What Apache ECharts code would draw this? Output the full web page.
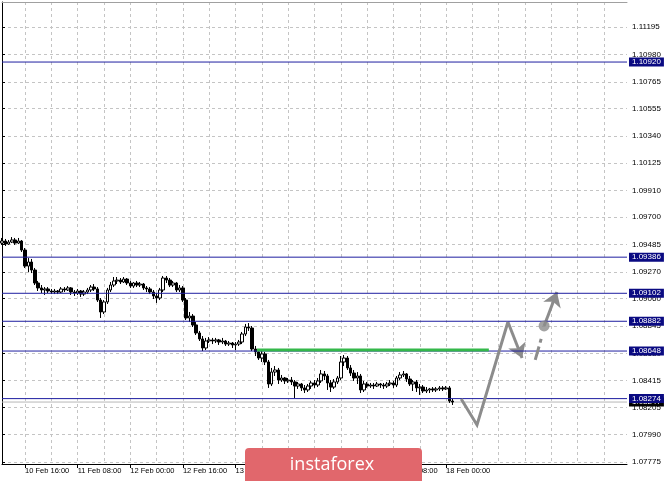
<!DOCTYPE html>
<html><head><meta charset="utf-8">
<script src="https://cdn.jsdelivr.net/npm/echarts@6/dist/echarts.min.js"></script>
<style>html,body{margin:0;padding:0;background:#fff}#c{width:665px;height:481px}</style>
</head><body><div id="c"></div>
<script>
// ---- data (EURUSD H1) ----
const opens = [1.09497,1.09513,1.09489,1.09505,1.09521,1.09497,1.09513,1.09442,1.09316,1.09348,
 1.09285,1.09183,1.09144,1.09128,1.09136,1.09120,1.09112,1.09120,1.09112,1.09136,
 1.09128,1.09144,1.09112,1.09104,1.09120,1.09096,1.09112,1.09128,1.09151,1.09136,
 1.09049,1.08955,1.09034,1.09128,1.09167,1.09199,1.09206,1.09191,1.09214,1.09183,
 1.09159,1.09183,1.09167,1.09175,1.09144,1.09136,1.09112,1.09081,1.09065,1.09128,
 1.09222,1.09206,1.09167,1.09183,1.09128,1.09144,1.09049,1.08908,1.08923,1.08853,
 1.08790,1.08743,1.08672,1.08727,1.08735,1.08727,1.08735,1.08719,1.08727,1.08703,
 1.08711,1.08696,1.08703,1.08719,1.08782,1.08837,1.08829,1.08664,1.08641,1.08593,
 1.08625,1.08562,1.08389,1.08483,1.08499,1.08420,1.08436,1.08413,1.08420,1.08405,
 1.08373,1.08389,1.08358,1.08342,1.08373,1.08397,1.08381,1.08413,1.08468,1.08452,
 1.08397,1.08365,1.08405,1.08436,1.08562,1.08593,1.08515,1.08475,1.08436,1.08452,
 1.08342,1.08389,1.08373,1.08381,1.08373,1.08389,1.08381,1.08373,1.08389,1.08397,
 1.08381,1.08436,1.08460,1.08468,1.08428,1.08389,1.08405,1.08358,1.08365,1.08334,
 1.08342,1.08350,1.08342,1.08350,1.08358,1.08350,1.08358,1.08255];
const closes = [1.09513,1.09489,1.09505,1.09521,1.09497,1.09513,1.09442,1.09316,1.09348,1.09285,
 1.09183,1.09144,1.09128,1.09136,1.09120,1.09112,1.09120,1.09112,1.09136,1.09128,
 1.09144,1.09112,1.09104,1.09120,1.09096,1.09112,1.09128,1.09151,1.09136,1.09049,
 1.08955,1.09034,1.09128,1.09167,1.09199,1.09206,1.09191,1.09214,1.09183,1.09159,
 1.09183,1.09167,1.09175,1.09144,1.09136,1.09112,1.09081,1.09065,1.09128,1.09222,
 1.09206,1.09167,1.09183,1.09128,1.09144,1.09049,1.08908,1.08923,1.08853,1.08790,
 1.08743,1.08672,1.08727,1.08735,1.08727,1.08735,1.08719,1.08727,1.08703,1.08711,
 1.08696,1.08703,1.08719,1.08782,1.08837,1.08829,1.08664,1.08641,1.08593,1.08625,
 1.08562,1.08389,1.08483,1.08499,1.08420,1.08436,1.08413,1.08420,1.08405,1.08373,
 1.08389,1.08358,1.08342,1.08373,1.08397,1.08381,1.08413,1.08468,1.08452,1.08397,
 1.08365,1.08405,1.08436,1.08562,1.08593,1.08515,1.08475,1.08436,1.08452,1.08342,
 1.08389,1.08373,1.08381,1.08373,1.08389,1.08381,1.08373,1.08389,1.08397,1.08381,
 1.08436,1.08460,1.08468,1.08428,1.08389,1.08405,1.08358,1.08365,1.08334,1.08342,
 1.08350,1.08342,1.08350,1.08358,1.08350,1.08358,1.08255,1.08247];
const highs = [1.09537,1.09529,1.09521,1.09544,1.09537,1.09537,1.09521,1.09458,1.09379,1.09372,
 1.09301,1.09199,1.09167,1.09151,1.09151,1.09136,1.09136,1.09128,1.09151,1.09151,
 1.09159,1.09151,1.09128,1.09136,1.09128,1.09128,1.09144,1.09167,1.09175,1.09151,
 1.09065,1.09049,1.09144,1.09191,1.09230,1.09230,1.09222,1.09230,1.09222,1.09199,
 1.09191,1.09199,1.09191,1.09183,1.09159,1.09151,1.09128,1.09104,1.09144,1.09238,
 1.09238,1.09222,1.09199,1.09191,1.09167,1.09159,1.09065,1.08955,1.08939,1.08876,
 1.08806,1.08766,1.08751,1.08758,1.08751,1.08751,1.08743,1.08751,1.08735,1.08727,
 1.08719,1.08719,1.08735,1.08798,1.08861,1.08868,1.08845,1.08688,1.08664,1.08656,
 1.08641,1.08578,1.08515,1.08530,1.08515,1.08460,1.08444,1.08436,1.08444,1.08420,
 1.08405,1.08397,1.08381,1.08389,1.08413,1.08420,1.08436,1.08499,1.08491,1.08468,
 1.08420,1.08428,1.08452,1.08609,1.08617,1.08609,1.08538,1.08499,1.08483,1.08468,
 1.08413,1.08405,1.08397,1.08397,1.08405,1.08397,1.08397,1.08405,1.08420,1.08413,
 1.08452,1.08483,1.08491,1.08475,1.08452,1.08420,1.08420,1.08389,1.08381,1.08365,
 1.08358,1.08365,1.08365,1.08373,1.08373,1.08373,1.08373,1.08271];
const lows = [1.09482,1.09474,1.09482,1.09497,1.09482,1.09489,1.09427,1.09301,1.09269,1.09261,
 1.09167,1.09120,1.09104,1.09089,1.09104,1.09096,1.09096,1.09096,1.09104,1.09112,
 1.09120,1.09089,1.09081,1.09089,1.09073,1.09081,1.09096,1.09112,1.09120,1.09034,
 1.08908,1.08939,1.09018,1.09112,1.09151,1.09175,1.09175,1.09183,1.09167,1.09144,
 1.09144,1.09151,1.09151,1.09128,1.09112,1.09096,1.09057,1.09026,1.09049,1.09112,
 1.09183,1.09151,1.09151,1.09112,1.09112,1.09034,1.08892,1.08876,1.08837,1.08774,
 1.08727,1.08648,1.08656,1.08711,1.08703,1.08711,1.08696,1.08703,1.08688,1.08688,
 1.08672,1.08656,1.08688,1.08703,1.08766,1.08806,1.08648,1.08609,1.08578,1.08562,
 1.08538,1.08358,1.08373,1.08452,1.08389,1.08405,1.08389,1.08397,1.08381,1.08279,
 1.08350,1.08334,1.08318,1.08326,1.08350,1.08358,1.08365,1.08397,1.08420,1.08342,
 1.08326,1.08350,1.08389,1.08420,1.08530,1.08499,1.08452,1.08413,1.08389,1.08318,
 1.08326,1.08358,1.08358,1.08350,1.08365,1.08358,1.08350,1.08358,1.08373,1.08358,
 1.08365,1.08420,1.08444,1.08405,1.08373,1.08334,1.08326,1.08303,1.08318,1.08318,
 1.08318,1.08326,1.08326,1.08334,1.08334,1.08342,1.08240,1.08224];

const levels = [1.10920, 1.09386, 1.09102, 1.08882, 1.08648, 1.08274];
const bidPrice = 1.08247;
const yTicks = [1.07775,1.07990,1.08205,1.08415,1.08630,1.08845,1.09060,1.09270,1.09485,
  1.09700,1.09910,1.10125,1.10340,1.10555,1.10765,1.10980,1.11195];
const xTickLabels = ['10 Feb 16:00','11 Feb 08:00','12 Feb 00:00','12 Feb 16:00','13 Feb 08:00',
  '14 Feb 00:00','14 Feb 16:00','17 Feb 08:00','18 Feb 00:00'];
const xGridHours = ['00','08','16'];

// hand-drawn forecast (bar index, price)
const greenX = [77.5, 148];
const greenY = [1.08656, 1.08656];
const zigX = [139.6, 144.4, 153.8];
const zigY = [1.08271, 1.08067, 1.08876];
const arrowDown = [[153.8, 1.08876], [158.1, 1.08593]];
const dashX = [162.1, 163.9];
const dashY = [1.08578, 1.08743];
const dot = [164.8, 1.08845];
const arrowUp = [[164.8, 1.08845], [168.7, 1.09112]];

// ---- categories: hourly bars, weekend skipped ----
const NBARS = 191;
const cats = [];
let d = 10, h = 9;
for (let k = 0; k < NBARS; k++) {
  cats.push(d + ' Feb ' + String(h).padStart(2, '0') + ':00');
  h++; if (h === 24) { h = 0; d++; if (d === 15) d = 17; }
}
const labelIdx = xTickLabels.map(l => cats.indexOf(l));
const gridIdx = [];
cats.forEach((c, i) => { if (xGridHours.includes(c.slice(-5, -3))) gridIdx.push(i); });
const candles = opens.map((o, i) => [o, closes[i], lows[i], highs[i]]);

const FONT = 'Liberation Sans';
const GRID = {color: '#c4c4c4', type: [3, 3], width: 1};
const BLUE = '#1e1ea0';

function levelSeries(v, lineColor, boxColor, z) {
  return {
    type: 'line', xAxisIndex: 1, z: z, silent: true, symbol: 'none',
    data: [[0, v], [NBARS - 1, v]],
    lineStyle: {color: lineColor, width: 1},
    endLabel: {show: true, distance: 2, formatter: () => v.toFixed(5),
      backgroundColor: boxColor, color: '#fff', fontSize: 8, fontFamily: FONT, padding: [1, 3, 0, 3]}
  };
}

const chart = echarts.init(document.getElementById('c'), null, {renderer: 'canvas'});
chart.setOption({
  animation: false,
  backgroundColor: '#fff',
  grid: {left: 2, right: 38, top: 2, bottom: 17},
  xAxis: [{
    type: 'category', data: cats, boundaryGap: false, position: 'bottom',
    axisLine: {lineStyle: {color: '#000', width: 1}},
    axisTick: {show: false}, axisLabel: {show: false}, splitLine: {show: false}
  }, {
    type: 'value', min: 0, max: NBARS - 1, position: 'bottom',
    axisLine: {show: false},
    axisTick: {show: true, customValues: labelIdx, length: 4, lineStyle: {color: '#000'}},
    axisLabel: {customValues: labelIdx, formatter: v => cats[Math.round(v)], align: 'left', margin: 3,
      fontSize: 7.5, fontFamily: FONT, color: '#000'},
    splitLine: {show: false}
  }, {
    type: 'value', min: 0, max: NBARS - 1, position: 'top',
    axisLine: {show: true, lineStyle: {color: '#a0a0a0'}},
    axisTick: {show: false, customValues: gridIdx}, axisLabel: {show: false},
    splitLine: {show: true, lineStyle: GRID}
  }],
  yAxis: {
    type: 'value', position: 'right', min: 1.07760, max: 1.11392,
    axisLine: {show: true, lineStyle: {color: '#000'}},
    axisTick: {show: true, customValues: yTicks, length: 3, lineStyle: {color: '#000'}},
    axisLabel: {customValues: yTicks, formatter: v => v.toFixed(5), margin: 5,
      fontSize: 8, fontFamily: FONT, color: '#000'},
    splitLine: {show: true, lineStyle: GRID}
  },
  series: [
    levelSeries(bidPrice, '#b8b8b8', '#000', 3),
    {
      type: 'candlestick', data: candles, barWidth: 3, z: 4,
      itemStyle: {color: '#fff', color0: '#000', borderColor: '#000', borderColor0: '#000', borderWidth: 1}
    },
    ...levels.map(v => levelSeries(v, BLUE, '#0a0a82', 5)),
    {
      type: 'line', xAxisIndex: 1, z: 6, silent: true, symbol: 'none',
      data: greenX.map((x, i) => [x, greenY[i]]),
      lineStyle: {color: '#34b84a', width: 3}
    },
    {
      type: 'line', xAxisIndex: 1, z: 7, silent: true, symbol: 'none',
      data: zigX.map((x, i) => [x, zigY[i]]),
      lineStyle: {color: '#8c8c8c', width: 3, join: 'miter'},
      markLine: {
        silent: true, animation: false, precision: 5, symbol: ['none', 'arrow'], symbolSize: 14,
        lineStyle: {color: '#8c8c8c', width: 3, type: 'solid'},
        label: {show: false}, emphasis: {disabled: true},
        data: [
          [{coord: arrowDown[0]}, {coord: arrowDown[1]}],
          [{coord: arrowUp[0]}, {coord: arrowUp[1]}]
        ]
      }
    },
    {
      type: 'line', xAxisIndex: 1, z: 7, silent: true, symbol: 'none',
      data: dashX.map((x, i) => [x, dashY[i]]),
      lineStyle: {color: '#8c8c8c', width: 3, type: [14, 4]}
    },
    {
      type: 'scatter', xAxisIndex: 1, z: 8, silent: true,
      data: [dot], symbolSize: 11, itemStyle: {color: '#8c8c8c'}
    }
  ],
  graphic: [
    {type: 'rect', shape: {x: 245, y: 448, width: 177, height: 44, r: 4},
      style: {fill: '#e1676c'}, z: 100},
    {type: 'text', x: 332, y: 465, z: 101,
      style: {text: 'instaforex', fill: '#fff', font: '18px "Open Sans"', align: 'center', verticalAlign: 'middle'}}
  ]
});
</script></body></html>
